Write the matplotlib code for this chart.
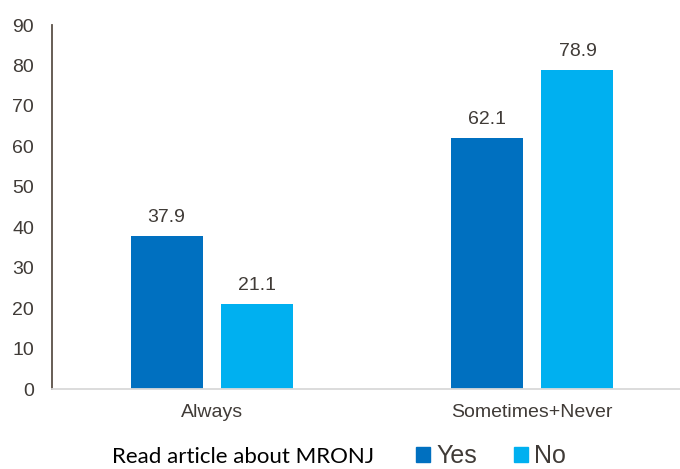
import numpy as np
import matplotlib.pyplot as plt
from matplotlib.patches import Patch

categories = ['Always', 'Sometimes+Never']
yes_vals = [37.9, 62.1]
no_vals = [21.1, 78.9]
series_names = ['Yes', 'No']
legend_title = 'Read article about MRONJ'

TEXT = '#403B37'
YES_C = '#0070C0'
NO_C = '#00B0F0'

fig = plt.figure(figsize=(6.8, 4.69), dpi=100)
ax = fig.add_axes([52/680, 80/469, 1 - 52/680, 364/469])

x = np.arange(len(categories))
w = 0.225
off = 0.142
b1 = ax.bar(x - off, yes_vals, w, color=YES_C)
b2 = ax.bar(x + off, no_vals, w, color=NO_C)

for bars, vals in ((b1, yes_vals), (b2, no_vals)):
    for rect, v in zip(bars, vals):
        ax.annotate(f'{v:.1f}', (rect.get_x() + rect.get_width()/2, v),
                    xytext=(0, 7), textcoords='offset points',
                    ha='center', va='bottom', fontsize=14, color=TEXT,
                    family='Liberation Sans')

ax.set_ylim(0, 90)
ax.set_xlim(-0.5, 1.5 - 12/320)
ax.set_yticks(np.arange(0, 91, 10))
ax.set_xticks(x)
ax.set_xticklabels(categories)
ax.tick_params(axis='both', length=0, labelsize=14, colors=TEXT, labelfontfamily='Liberation Sans')
ax.tick_params(axis='y', pad=13)
ax.tick_params(axis='x', pad=11)

for s in ['top', 'right']:
    ax.spines[s].set_visible(False)
ax.spines['left'].set_color('#5A5048')
ax.spines['left'].set_linewidth(1.3)
ax.spines['bottom'].set_color('#D9D9D9')
ax.spines['bottom'].set_linewidth(1.3)

fig.text(112/680, 1 - 457/469, legend_title, fontsize=16, family='Lato',
         color='black', va='center', ha='left')
handles = [Patch(color=YES_C), Patch(color=NO_C)]
leg = fig.legend(handles, series_names, loc='center left', bbox_to_anchor=(416/680, 1 - 456/469),
                 ncol=2, frameon=False, handlelength=0.55, handleheight=0.55,
                 handletextpad=0.25, columnspacing=1.5, borderaxespad=0, borderpad=0,
                 prop={'family': 'Liberation Sans', 'size': 18})
for t in leg.get_texts():
    t.set_color(TEXT)

fig.savefig('out.png', dpi=100)
